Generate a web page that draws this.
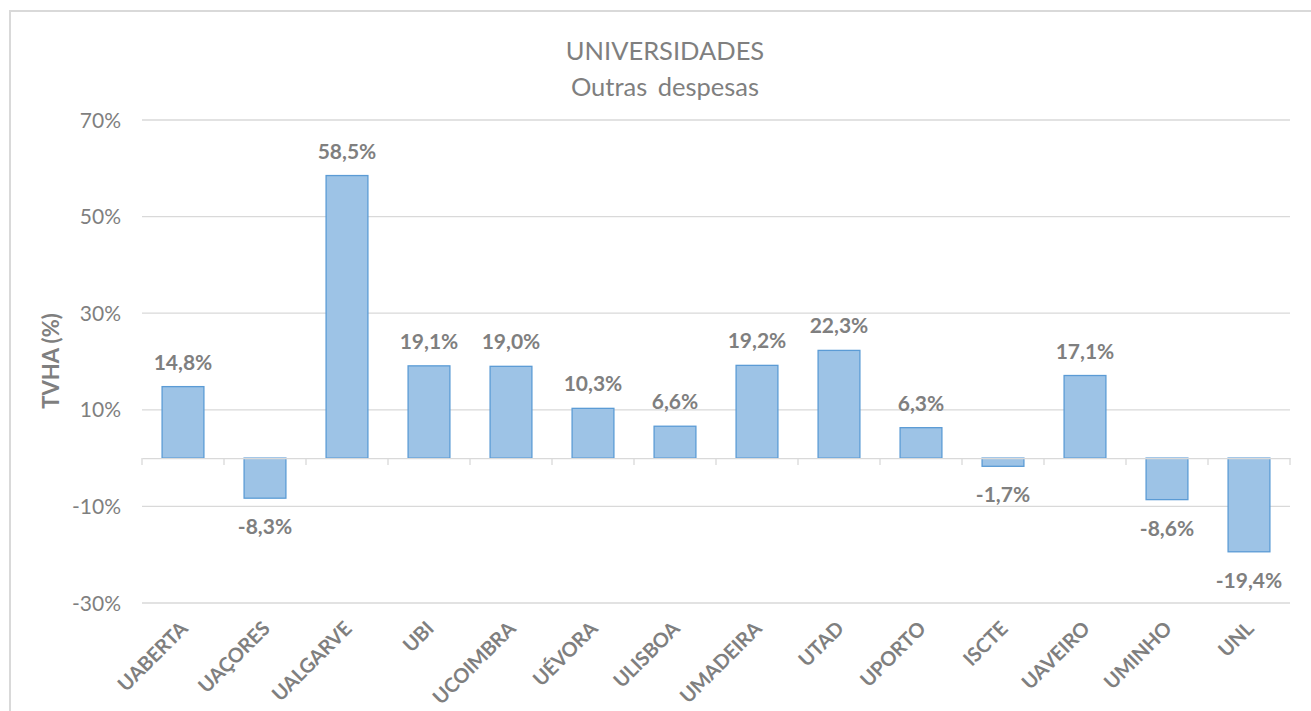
<!DOCTYPE html>
<html>
<head>
<meta charset="utf-8">
<script src="https://cdn.jsdelivr.net/npm/d3@7"></script>
<style>
  body { margin: 0; background: #fff; }
  text { font-family: Lato, 'Open Sans', sans-serif; }
</style>
</head>
<body>
<div id="chart"></div>
<script>
const categories = ['UABERTA', 'UAÇORES', 'UALGARVE', 'UBI', 'UCOIMBRA', 'UÉVORA', 'ULISBOA',
  'UMADEIRA', 'UTAD', 'UPORTO', 'ISCTE', 'UAVEIRO', 'UMINHO', 'UNL'];
const values = [14.8, -8.3, 58.5, 19.1, 19.0, 10.3, 6.6, 19.2, 22.3, 6.3, -1.7, 17.1, -8.6, -19.4];
const yTicks = [-30, -10, 10, 30, 50, 70];

const width = 1311;
const height = 711;
const margin = { top: 120, right: 21, bottom: 108, left: 142 };
const grey = '#7f7f7f';

const svg = d3
  .select('#chart')
  .append('svg')
  .attr('width', width)
  .attr('height', height);

// chart frame
svg
  .append('rect')
  .attr('x', 10)
  .attr('y', 11)
  .attr('width', width)
  .attr('height', height)
  .attr('fill', 'none')
  .attr('stroke', '#d9d9d9')
  .attr('stroke-width', 2);

const x = d3
  .scaleBand()
  .domain(categories)
  .range([margin.left, width - margin.right])
  .paddingInner(0.49)
  .paddingOuter(0.245);

const y = d3
  .scaleLinear()
  .domain([-30, 70])
  .range([603, 120]);

// gridlines
svg
  .selectAll('.grid')
  .data(yTicks)
  .enter()
  .append('line')
  .attr('x1', margin.left)
  .attr('x2', width - margin.right)
  .attr('y1', (d) => y(d))
  .attr('y2', (d) => y(d))
  .attr('stroke', '#d9d9d9')
  .attr('stroke-width', 1.3);

// y tick labels
svg
  .selectAll('.ytick')
  .data(yTicks)
  .enter()
  .append('text')
  .attr('x', 121)
  .attr('y', (d) => y(d))
  .attr('dy', '0.36em')
  .attr('text-anchor', 'end')
  .attr('fill', grey)
  .style('font-size', '21px')
  .text((d) => `${d}%`);

// bars
svg
  .selectAll('.bar')
  .data(values)
  .enter()
  .append('rect')
  .attr('x', (d, i) => x(categories[i]))
  .attr('y', (d) => y(Math.max(0, d)))
  .attr('width', x.bandwidth())
  .attr('height', (d) => Math.abs(y(d) - y(0)))
  .attr('fill', '#9dc3e6')
  .attr('stroke', '#5b9bd5')
  .attr('stroke-width', 1.3);

// zero axis with tick marks between categories
const xAxis = d3
  .axisBottom(x)
  .tickSizeOuter(0)
  .tickSizeInner(0)
  .tickFormat('');

svg
  .append('g')
  .attr('transform', `translate(0,${y(0)})`)
  .call(xAxis)
  .call((g) => g.select('.domain').attr('stroke', '#d9d9d9').attr('stroke-width', 1.3));

const step = x.step();
svg
  .selectAll('.xtickmark')
  .data(d3.range(categories.length + 1))
  .enter()
  .append('line')
  .attr('x1', (i) => margin.left + i * step)
  .attr('x2', (i) => margin.left + i * step)
  .attr('y1', y(0))
  .attr('y2', y(0) + 7)
  .attr('stroke', '#d9d9d9')
  .attr('stroke-width', 1.3);

// category labels
svg
  .selectAll('.xlabel')
  .data(categories)
  .enter()
  .append('text')
  .attr('transform', (d) => `translate(${x(d) + x.bandwidth() / 2 + 6},${630}) rotate(-45)`)
  .attr('text-anchor', 'end')
  .attr('fill', grey)
  .style('font-size', '20px')
  .style('font-weight', 'bold')
  .style('letter-spacing', '-0.2px')
  .text((d) => d);

// value labels
svg
  .selectAll('.vlabel')
  .data(values)
  .enter()
  .append('text')
  .attr('x', (d, i) => x(categories[i]) + x.bandwidth() / 2)
  .attr('y', (d) => (d >= 0 ? y(d) - 17 : y(d) + 36))
  .attr('text-anchor', 'middle')
  .attr('fill', grey)
  .style('font-size', '21px')
  .style('font-weight', 'bold')
  .text((d) => `${d.toFixed(1).replace('.', ',')}%`);

// titles
svg
  .append('text')
  .attr('x', 665)
  .attr('y', 60)
  .attr('text-anchor', 'middle')
  .attr('fill', grey)
  .style('font-size', '25.5px')
  .text('UNIVERSIDADES');

svg
  .append('text')
  .attr('x', 665)
  .attr('y', 96)
  .attr('text-anchor', 'middle')
  .attr('fill', grey)
  .style('font-size', '25.5px')
  .style('word-spacing', '4px')
  .text('Outras despesas');

svg
  .append('text')
  .attr('transform', `translate(59,${361}) rotate(-90)`)
  .attr('text-anchor', 'middle')
  .attr('fill', grey)
  .style('font-size', '22px')
  .style('font-weight', 'bold')
  .text('TVHA (%)');
</script>
</body>
</html>
